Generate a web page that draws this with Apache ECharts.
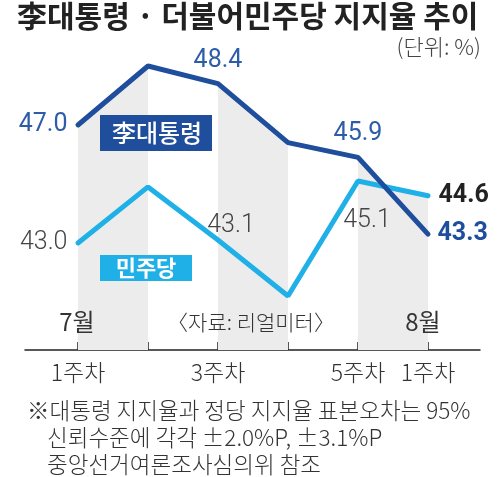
<!DOCTYPE html>
<html><head><meta charset="utf-8">
<script src="https://cdn.jsdelivr.net/npm/echarts@6/dist/echarts.min.js"></script>
<style>html,body{margin:0;padding:0;background:#fff}#c{width:500px;height:477px}</style>
</head><body><div id="c"></div>
<script>
// ---- data ----
const categories = ['7월 1주차','7월 2주차','7월 3주차','7월 4주차','7월 5주차','8월 1주차'];
const tickLabels = ['1주차','','3주차','','5주차','1주차'];
const leeValues = [47.0, 49.0, 48.4, 46.4, 45.9, 43.3];
const demValues = [43.0, 44.9, 43.1, 41.2, 45.1, 44.6];
const labelledLee = [0, 2, 4, 5];
const labelledDem = [0, 2, 4, 5];
const bandStarts = [0, 2, 4];

// ---- styles ----
const NUM_FONT = 'Roboto,"Liberation Sans",sans-serif';
const KR_FONT = '"Noto Sans CJK KR","Noto Sans",sans-serif';
const DARK = '#1f4e9c';
const LIGHT = '#1eb0e6';
const BAND = '#ececec';

const leeLabelStyle = {
  0: {position: 'left', distance: 10},
  2: {position: 'top', distance: 10},
  4: {position: 'top', distance: 11},
  5: {position: 'right', distance: 9, fontWeight: 'bold', color: DARK}
};
const demLabelStyle = {
  0: {position: 'left', distance: 10},
  2: {position: 'top', distance: 1, offset: [13, 0]},
  4: {position: 'bottom', distance: 27, offset: [9, 0]},
  5: {position: 'right', distance: 10, fontWeight: 'bold', color: '#222'}
};

function makeData(values, labelled, styles) {
  return values.map((v, i) => ({
    value: [i, v],
    label: labelled.includes(i) ? Object.assign({show: true}, styles[i]) : {show: false}
  }));
}

const bandSeries = [];
bandStarts.forEach(s => {
  [leeValues, demValues].forEach(vals => {
    bandSeries.push({
      type: 'line', silent: true, z: 1,
      symbol: 'none',
      lineStyle: {width: 0, opacity: 0},
      areaStyle: {color: BAND, opacity: 1, origin: 'start'},
      data: [[s, vals[s]], [s + 1, vals[s + 1]]]
    });
  });
});

const chart = echarts.init(document.getElementById('c'), null, {renderer: 'canvas'});
chart.setOption({
  animation: false,
  backgroundColor: '#fff',
  grid: {left: 25, right: 20, top: 36.5, bottom: 127, containLabel: false},
  xAxis: {
    type: 'value', min: -0.757, max: 5.743,
    splitLine: {show: false},
    axisLine: {show: true, onZero: false, lineStyle: {color: '#222', width: 1.5}},
    axisTick: {show: true, inside: true, length: 8, customValues: [0,1,2,3,4,5], lineStyle: {color: '#222', width: 1.5}},
    axisLabel: {
      show: true, customValues: [0, 2, 4, 5], margin: 11,
      formatter: v => tickLabels[Math.round(v)],
      fontFamily: KR_FONT, fontSize: 23, fontWeight: 300, color: '#333'
    }
  },
  yAxis: {type: 'value', min: 39.37, max: 50, show: false, splitLine: {show: false}},
  series: bandSeries.concat([
    {
      name: '민주당', type: 'line', z: 3,
      symbol: 'circle', symbolSize: 1, itemStyle: {color: LIGHT},
      lineStyle: {color: LIGHT, width: 5, cap: 'round'},
      label: {fontFamily: NUM_FONT, fontSize: 25, color: '#444', fontWeight: 300, formatter: p => p.value[1].toFixed(1)},
      data: makeData(demValues, labelledDem, demLabelStyle)
    },
    {
      name: '李대통령', type: 'line', z: 4,
      symbol: 'circle', symbolSize: 1, itemStyle: {color: DARK},
      lineStyle: {color: DARK, width: 5, cap: 'round'},
      label: {fontFamily: NUM_FONT, fontSize: 25, color: '#2d5ca8', fontWeight: 'normal', formatter: p => p.value[1].toFixed(1)},
      data: makeData(leeValues, labelledLee, leeLabelStyle)
    }
  ]),
  graphic: [
    {type: 'text', z: 100, left: 17, top: 1, style: {text: '李대통령 · 더불어민주당 지지율 추이', font: 'bold 30px ' + KR_FONT, fill: '#222'}},
    {type: 'text', z: 100, right: 19, top: 36, style: {text: '(단위: %)', font: '300 22px ' + KR_FONT, fill: '#444'}},
    {type: 'rect', z: 100, shape: {x: 100, y: 115, width: 112, height: 36}, style: {fill: DARK}},
    {type: 'text', z: 101, style: {x: 157, y: 133, text: '李대통령', font: '500 24px ' + KR_FONT, fill: '#fff', align: 'center', verticalAlign: 'middle'}},
    {type: 'rect', z: 100, shape: {x: 100, y: 255, width: 92, height: 26}, style: {fill: LIGHT}},
    {type: 'text', z: 101, style: {x: 146, y: 268, text: '민주당', font: 'bold 22px ' + KR_FONT, fill: '#fff', align: 'center', verticalAlign: 'middle'}},
    {type: 'text', z: 100, style: {x: 77, y: 322, text: '7월', font: '24px ' + KR_FONT, fill: '#333', align: 'center', verticalAlign: 'middle'}},
    {type: 'text', z: 100, style: {x: 251, y: 322, text: '〈자료: 리얼미터〉', font: '300 21px ' + KR_FONT, fill: '#333', align: 'center', verticalAlign: 'middle'}},
    {type: 'text', z: 100, style: {x: 423, y: 322, text: '8월', font: '24px ' + KR_FONT, fill: '#333', align: 'center', verticalAlign: 'middle'}},
    {type: 'text', z: 100, style: {x: 27, y: 410, text: '※대통령 지지율과 정당 지지율 표본오차는 95%', font: '300 22.5px ' + KR_FONT, fill: '#333', verticalAlign: 'middle'}},
    {type: 'text', z: 100, style: {x: 47, y: 437, text: '신뢰수준에 각각 ±2.0%P, ±3.1%P', font: '300 22.5px ' + KR_FONT, fill: '#333', verticalAlign: 'middle'}},
    {type: 'text', z: 100, style: {x: 47, y: 464, text: '중앙선거여론조사심의위 참조', font: '300 22.5px ' + KR_FONT, fill: '#333', verticalAlign: 'middle'}}
  ]
});
</script></body></html>
